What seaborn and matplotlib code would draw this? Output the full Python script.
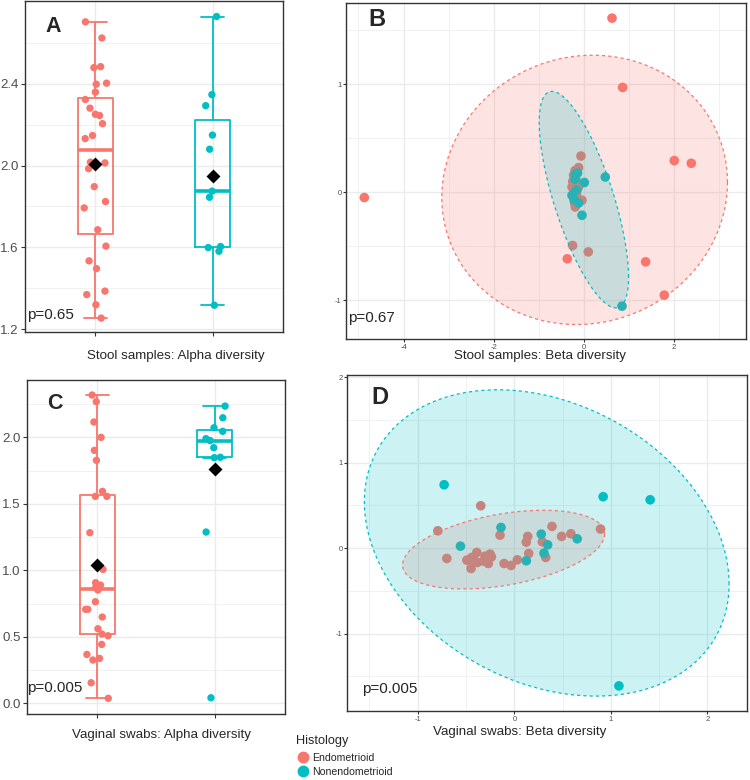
import numpy as np
import pandas as pd
import matplotlib
matplotlib.use("Agg")
import matplotlib.pyplot as plt
import seaborn as sns
from matplotlib.lines import Line2D
from matplotlib.ticker import FixedLocator, NullFormatter

sns.set_style("ticks")
plt.rcParams["font.family"] = ["Liberation Sans", "DejaVu Sans"]

# ---------------- data ----------------
groups = ["Endometrioid", "Nonendometrioid"]
palette = {"Endometrioid": "#F8766D", "Nonendometrioid": "#00BFC4"}

stool_alpha_endo = [2.703, 2.624, 2.479, 2.484, 2.403, 2.398, 2.359, 2.323, 2.281, 2.251,
                    2.245, 2.205, 2.147, 2.132, 2.017, 2.013, 1.985, 1.897, 1.824, 1.793,
                    1.686, 1.606, 1.534, 1.496, 1.386, 1.369, 1.319, 1.254]
stool_alpha_non = [2.729, 2.347, 2.293, 2.149, 2.080, 1.875, 1.845, 1.604, 1.581, 1.599, 1.317]

vag_alpha_endo = [2.318, 2.268, 2.115, 2.000, 1.902, 1.827, 1.594, 1.556, 1.556, 1.283,
                  1.007, 0.869, 0.907, 0.889, 0.852, 0.764, 0.707, 0.707, 0.649, 0.561,
                  0.521, 0.508, 0.443, 0.368, 0.326, 0.338, 0.155, 0.038]
vag_alpha_non = [2.235, 2.147, 2.072, 2.045, 1.990, 1.975, 1.922, 1.850, 1.847, 1.288, 0.042]

stool_beta_endo_x = [0.621, 0.856, -4.871, 2.002, 2.379, 1.366, 1.780, -0.370, -0.253, 0.095,
                     -0.067, -0.120, -0.231, -0.208, -0.155, -0.231, -0.044, -0.208, -0.193, -0.266,
                     -0.18, -0.22, -0.15, -0.20, -0.17, -0.12, -0.25, -0.19]
stool_beta_endo_y = [1.611, 0.970, -0.049, 0.293, 0.268, -0.644, -0.952, -0.616, -0.493, -0.552,
                     0.335, 0.228, 0.157, 0.080, 0.018, -0.043, -0.074, -0.099, -0.136, 0.049,
                     0.12, 0.00, -0.08, 0.20, -0.02, 0.05, 0.10, -0.11]
stool_beta_non_x = [-0.193, -0.142, 0.007, 0.472, -0.266, -0.044, 0.843, -0.22, -0.17, -0.12, -0.20]
stool_beta_non_y = [0.166, 0.178, 0.090, 0.141, -0.028, -0.213, -1.054, -0.07, 0.02, -0.10, 0.12]

vag_beta_endo_x = [-0.348, -0.792, -0.699, 0.893, 0.390, 0.586, 0.490, 0.139, 0.124, 0.290,
                   0.149, 0.325, -0.148, 0.031, -0.034, -0.106, -0.237, -0.251, -0.303, -0.269,
                   -0.320, -0.389, -0.383, -0.441, -0.492, -0.448, -0.413, -0.455]
vag_beta_endo_y = [0.496, 0.203, -0.121, 0.223, 0.254, 0.168, 0.137, 0.137, 0.070, 0.074,
                   -0.063, -0.109, 0.152, -0.137, -0.203, -0.180, -0.102, -0.070, -0.094, -0.180,
                   -0.152, -0.051, -0.168, -0.109, -0.141, -0.238, -0.148, -0.133]
vag_beta_non_x = [-0.727, 0.920, 1.407, -0.138, -0.558, 0.279, 0.345, 0.307, 0.124, 0.651, 1.083]
vag_beta_non_y = [0.742, 0.602, 0.566, 0.242, 0.023, 0.164, 0.039, -0.059, -0.148, 0.109, -1.613]

panel_letters = ["A", "B", "C", "D"]
p_texts = ["p=0.65", "p=0.67", "p=0.005", "p=0.005"]
x_titles = ["Stool samples: Alpha diversity", "Stool samples: Beta diversity",
            "Vaginal swabs: Alpha diversity", "Vaginal swabs: Beta diversity"]

# ---------------- helpers ----------------
W, H = 750, 780
fig = plt.figure(figsize=(W / 100, H / 100), dpi=100)


def rect(x0, y0, x1, y1):
    return [x0 / W, 1 - y1 / H, (x1 - x0) / W, (y1 - y0) / H]


def ftext(x, y, s, **kw):
    fig.text(x / W, 1 - y / H, s, **kw)


GRID = "#EBEBEB"
BORDER = "#333333"
TICKC = "#4D4D4D"


def style_axes(ax, tick_fs, pad=1.5, ticklen=3):
    for sp in ax.spines.values():
        sp.set_visible(True)
        sp.set_color(BORDER)
        sp.set_linewidth(1.0)
    ax.set_facecolor("white")
    ax.tick_params(which="major", length=ticklen, width=0.8, color=BORDER,
                   labelcolor=TICKC, labelsize=tick_fs, pad=pad)
    ax.tick_params(which="minor", length=0)
    ax.grid(which="major", color=GRID, linewidth=1.0, zorder=0)
    ax.grid(which="minor", color=GRID, linewidth=0.5, zorder=0)
    ax.set_axisbelow(True)
    ax.set_xlabel("")
    ax.set_ylabel("")


def alpha_panel(ax, endo, non, ylim, yticks, yminor, fmt):
    df = pd.DataFrame({"Histology": ["Endometrioid"] * len(endo) + ["Nonendometrioid"] * len(non),
                       "value": endo + non})
    sns.boxplot(data=df, x="Histology", y="value", hue="Histology", order=groups,
                hue_order=groups, palette=palette, fill=False, width=0.3, linewidth=1.3,
                showfliers=False, whis=1.5, medianprops={"linewidth": 2.6},
                capwidths=0.2, legend=False, ax=ax)
    sns.stripplot(data=df, x="Histology", y="value", hue="Histology", order=groups,
                  hue_order=groups, palette=palette, jitter=0.1, size=5.3, linewidth=0,
                  legend=False, ax=ax, zorder=3)
    sns.pointplot(data=df, x="Histology", y="value", order=groups, estimator="mean",
                  errorbar=None, color="black", markers="D", linestyles="none",
                  markersize=4.6, ax=ax, zorder=5)
    ax.set_xlim(-0.6, 1.6)
    ax.set_ylim(*ylim)
    ax.xaxis.set_major_locator(FixedLocator([0, 1]))
    ax.xaxis.set_major_formatter(NullFormatter())
    ax.yaxis.set_major_locator(FixedLocator(yticks))
    ax.yaxis.set_minor_locator(FixedLocator(yminor))
    ax.set_yticklabels([fmt.format(v) for v in yticks])
    style_axes(ax, 9.5)
    ax.xaxis.grid(True, which="major", color=GRID, linewidth=1.0)


def ellipse_points(x, y, level=0.95):
    pts = np.column_stack([x, y])
    n = len(pts)
    center = pts.mean(axis=0)
    cov = np.cov(pts, rowvar=False)
    dfd = n - 1
    fq = (dfd / 2.0) * ((1 - level) ** (-2.0 / dfd) - 1)
    radius = np.sqrt(2 * fq)
    chol = np.linalg.cholesky(cov)
    t = np.linspace(0, 2 * np.pi, 240)
    circle = np.column_stack([np.cos(t), np.sin(t)])
    return center + radius * circle @ chol.T


def beta_panel(ax, ex, ey, nx, ny, xlim, ylim, xt, yt):
    df = pd.DataFrame({"Histology": ["Endometrioid"] * len(ex) + ["Nonendometrioid"] * len(nx),
                       "x": ex + nx, "y": ey + ny})
    sns.scatterplot(data=df, x="x", y="y", hue="Histology", hue_order=groups,
                    palette=palette, s=48, linewidth=0, legend=False, ax=ax, zorder=2)
    for g in groups:
        sub = df[df["Histology"] == g]
        e = ellipse_points(sub["x"].values, sub["y"].values)
        ax.fill(e[:, 0], e[:, 1], color=palette[g], alpha=0.2, linewidth=0, zorder=3)
        ax.plot(e[:, 0], e[:, 1], color=palette[g], linestyle=(0, (2.5, 2.5)),
                linewidth=0.9, zorder=4)
    ax.set_xlim(*xlim)
    ax.set_ylim(*ylim)
    ax.xaxis.set_major_locator(FixedLocator(xt))
    ax.yaxis.set_major_locator(FixedLocator(yt))
    xm = [(a + b) / 2 for a, b in zip(xt[:-1], xt[1:])]
    ym = [(a + b) / 2 for a, b in zip(yt[:-1], yt[1:])]
    xm = [xt[0] - (xt[1] - xt[0]) / 2] + xm + [xt[-1] + (xt[1] - xt[0]) / 2]
    ym = [yt[0] - (yt[1] - yt[0]) / 2] + ym + [yt[-1] + (yt[1] - yt[0]) / 2]
    ax.xaxis.set_minor_locator(FixedLocator(xm))
    ax.yaxis.set_minor_locator(FixedLocator(ym))
    ax.set_xticklabels([str(v) for v in xt])
    ax.set_yticklabels([str(v) for v in yt])
    style_axes(ax, 5.5, pad=0.8, ticklen=2.5)


# ---------------- panels ----------------
np.random.seed(7)
axA = fig.add_axes(rect(25, 1, 283, 332))
alpha_panel(axA, stool_alpha_endo, stool_alpha_non, (1.186, 2.805),
            [1.2, 1.6, 2.0, 2.4], [1.4, 1.8, 2.2, 2.6], "{:.1f}")

axB = fig.add_axes(rect(346, 3, 746, 339))
beta_panel(axB, stool_beta_endo_x, stool_beta_endo_y, stool_beta_non_x, stool_beta_non_y,
           (-5.277, 3.592), (-1.358, 1.751), [-4, -2, 0, 2], [-1, 0, 1])

axC = fig.add_axes(rect(27, 380, 285, 714))
alpha_panel(axC, vag_alpha_endo, vag_alpha_non, (-0.08, 2.431),
            [0.0, 0.5, 1.0, 1.5, 2.0], [0.25, 0.75, 1.25, 1.75, 2.25], "{:.1f}")

axD = fig.add_axes(rect(347, 375, 747, 711))
beta_panel(axD, vag_beta_endo_x, vag_beta_endo_y, vag_beta_non_x, vag_beta_non_y,
           (-1.733, 2.410), (-1.907, 2.027), [-1, 0, 1, 2], [-1, 0, 1, 2])

# ---------------- texts ----------------
ftext(45, 26, panel_letters[0], fontsize=15.5, fontweight="bold", va="center", ha="left")
ftext(368, 19, panel_letters[1], fontsize=17, fontweight="bold", va="center", ha="left")
ftext(47, 403, panel_letters[2], fontsize=15.5, fontweight="bold", va="center", ha="left")
ftext(371, 397, panel_letters[3], fontsize=17, fontweight="bold", va="center", ha="left")

ftext(27, 315, p_texts[0], fontsize=11, va="center", ha="left")
ftext(348, 318, p_texts[1], fontsize=11, va="center", ha="left")
ftext(27, 688, p_texts[2], fontsize=11, va="center", ha="left")
ftext(362, 689, p_texts[3], fontsize=11, va="center", ha="left")

ftext(176, 356, x_titles[0], fontsize=9.6, va="center", ha="center")
ftext(540, 356, x_titles[1], fontsize=9.6, va="center", ha="center")
ftext(162, 735, x_titles[2], fontsize=9.6, va="center", ha="center")
ftext(520, 732, x_titles[3], fontsize=9.6, va="center", ha="center")

# ---------------- legend ----------------
handles = [Line2D([], [], marker="o", linestyle="", markersize=7.5,
                  markerfacecolor=palette[g], markeredgecolor=palette[g]) for g in groups]
leg = fig.legend(handles, groups, title="Histology", loc="upper left",
                 bbox_to_anchor=(289 / W, 1 - 728 / H), frameon=False, fontsize=7.6,
                 title_fontsize=9.2, alignment="left", handletextpad=0.3,
                 labelspacing=0.4, borderpad=0.2, handlelength=1.2)
leg._legend_box.sep = 4

fig.savefig("out.png", dpi=100)
